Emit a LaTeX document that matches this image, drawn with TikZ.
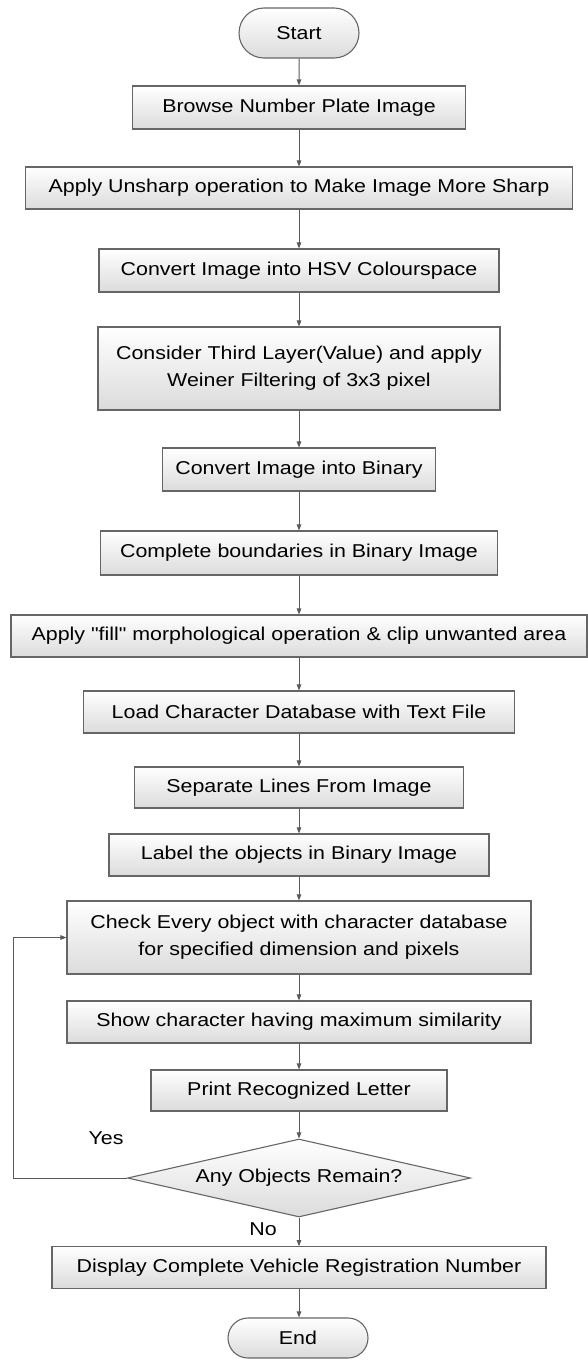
\documentclass[tikz,border=0pt]{standalone}
\usepackage{fontspec}
\setmainfont{Liberation Sans}[FakeStretch=1.15, Ligatures=TeXOff]
\usetikzlibrary{arrows.meta, shapes.misc, shapes.geometric, positioning}

\definecolor{boxgray}{HTML}{666666}
\definecolor{linegray}{HTML}{5A5A5A}

\tikzset{
  procbox/.style={draw=boxgray, line width=1.1pt, top color=white, bottom color=black!14,
    inner sep=0pt, align=center},
  termbox/.style={procbox, rounded rectangle},
  decbox/.style={procbox, diamond, aspect=4.4},
  link/.style={->, draw=linegray, line width=1pt},
}

\begin{document}
\begin{tikzpicture}[x=1pt, y=-1pt, >={Triangle[length=6pt, width=4.5pt]},
  font=\fontsize{18.6}{27}\selectfont]
  \useasboundingbox (0,0) rectangle (588,1360);

  \node[termbox, minimum width=120pt, minimum height=50pt] (start) at (299, 33) {Start};
  \node[procbox, minimum width=333pt, minimum height=43pt] (browse) at (299, 107.5) {Browse Number Plate Image};
  \node[procbox, minimum width=547pt, minimum height=42pt] (unsharp) at (299, 188) {Apply Unsharp operation to Make Image More Sharp};
  \node[procbox, minimum width=400pt, minimum height=43pt] (hsv) at (299, 270.5) {Convert Image into HSV Colourspace};
  \node[procbox, minimum width=402pt, minimum height=83pt] (wiener) at (299, 368.5) {Consider Third Layer(Value) and apply\\ Weiner Filtering of 3x3 pixel};
  \node[procbox, minimum width=273pt, minimum height=43pt] (binary) at (299, 469.5) {Convert Image into Binary};
  \node[procbox, minimum width=397pt, minimum height=44pt] (bound) at (299, 553) {Complete boundaries in Binary Image};
  \node[procbox, minimum width=576pt, minimum height=42pt] (fill) at (299, 636) {Apply "fill" morphological operation \& clip unwanted area};
  \node[procbox, minimum width=431pt, minimum height=42pt] (load) at (299, 712) {Load Character Database with Text File};
  \node[procbox, minimum width=329pt, minimum height=41pt] (lines) at (299, 787.5) {Separate Lines From Image};
  \node[procbox, minimum width=380pt, minimum height=42pt] (label) at (299, 855) {Label the objects in Binary Image};
  \node[procbox, minimum width=464pt, minimum height=73pt] (check) at (299, 937.5) {Check Every object with character database\\ for specified dimension and pixels};
  \node[procbox, minimum width=464pt, minimum height=42pt] (show) at (299, 1022) {Show character having maximum similarity};
  \node[procbox, minimum width=296pt, minimum height=41pt] (print) at (299, 1090.5) {Print Recognized Letter};
  \node[decbox, minimum width=343pt, minimum height=78pt] (remain) at (299, 1178) {Any Objects Remain?};
  \node[procbox, minimum width=494pt, minimum height=41.5pt] (display) at (299, 1267.5) {Display Complete Vehicle Registration Number};
  \node[termbox, minimum width=140pt, minimum height=40pt] (stop) at (298, 1338) {End};

  \draw[link] (start) to (browse);
  \draw[link] (browse) to (unsharp);
  \draw[link] (unsharp) to (hsv);
  \draw[link] (hsv) to (wiener);
  \draw[link] (wiener) to (binary);
  \draw[link] (binary) to (bound);
  \draw[link] (bound) to (fill);
  \draw[link] (fill) to (load);
  \draw[link] (load) to (lines);
  \draw[link] (lines) to (label);
  \draw[link] (label) to (check);
  \draw[link] (check) to (show);
  \draw[link] (show) to (print);
  \draw[link] (print) to (remain);
  \draw[link] (remain) to (display);
  \draw[link] (display.south) to (display.south |- stop.north);

  %loop back
  \coordinate (loop) at (13, 1178);
  \draw[link] (remain.west) -- (loop) |- (check.west);
  \node (yes) at (106, 1138) {Yes};
  \node (no) at (263, 1229) {No};
\end{tikzpicture}
\end{document}
